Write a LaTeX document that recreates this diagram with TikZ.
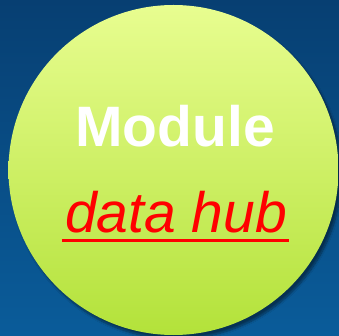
\documentclass[tikz,border=0pt]{standalone}
\usepackage{fontspec}
\setmainfont{Liberation Sans}
\usetikzlibrary{shadows.blur}
\definecolor{bgtop}{HTML}{073F72}
\definecolor{bgbot}{HTML}{0A5C9A}
\definecolor{ctop}{HTML}{E8FD90}
\definecolor{cbot}{HTML}{B3E23A}
\tikzset{
  hub/.style={circle, minimum size=330pt, inner sep=0pt, top color=ctop, bottom color=cbot,
    blur shadow={shadow xshift=3pt, shadow yshift=-4pt, shadow blur steps=10, shadow opacity=45}},
  title/.style={text=white, font=\fontsize{57}{60}\selectfont\bfseries, inner sep=0pt, anchor=base},
  sub/.style={text=red, font=\fontsize{57}{60}\selectfont\itshape, inner sep=0pt, anchor=base}
}
\begin{document}
\begin{tikzpicture}[x=1pt,y=1pt]
  \shade[top color=bgtop, bottom color=bgbot] (0,0) rectangle (339,-336);
  \useasboundingbox (0,0) rectangle (339,-336);
  \node[hub] (c) at (173.5,-170) {};
  \node[title] (m) at (175,-147) {Module};
  \node[sub] (dh) at (176,-233) {data hub};
  \draw[red, line width=3pt] ([xshift=-3pt,yshift=-7pt]dh.base west) -- ([xshift=2pt,yshift=-7pt]dh.base east);
\end{tikzpicture}
\end{document}
